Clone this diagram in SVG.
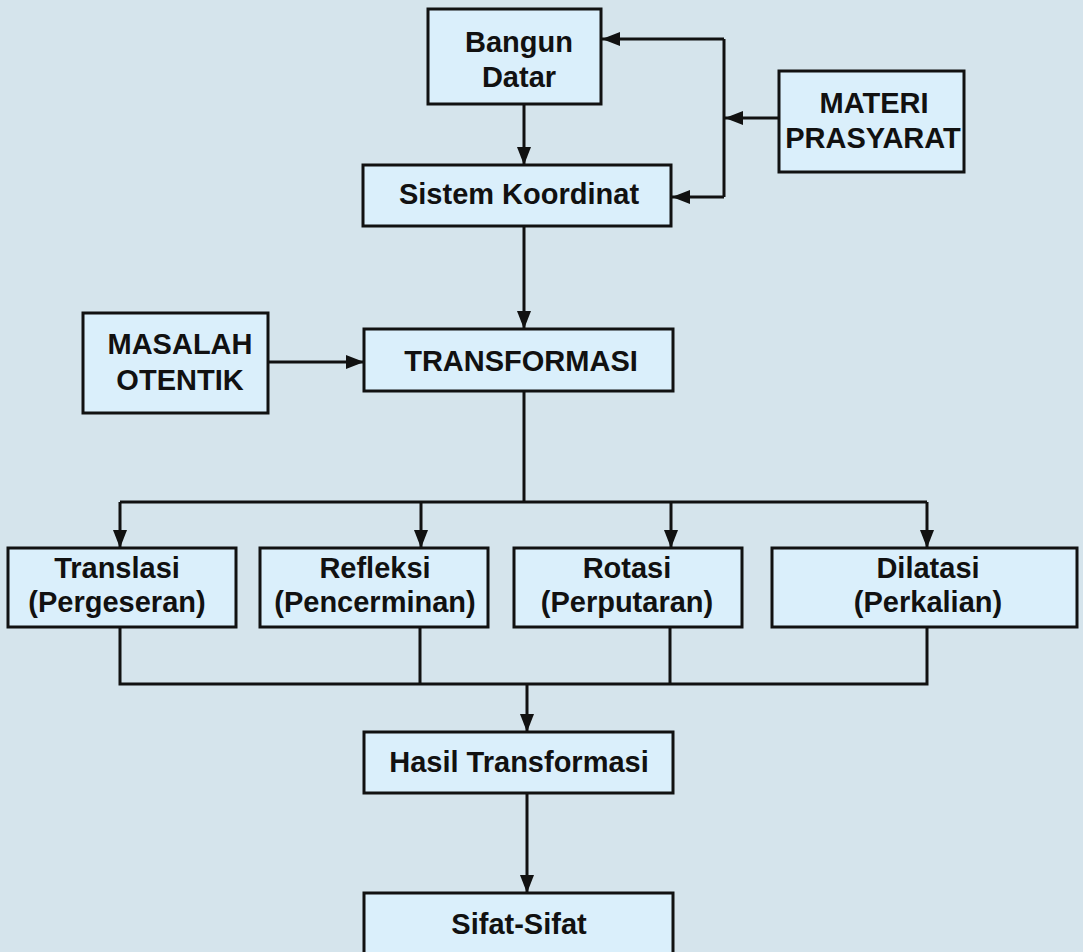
<svg xmlns="http://www.w3.org/2000/svg" width="1083" height="952" viewBox="0 0 1083 952">
<defs>
<style>
.box{fill:#daeffb;stroke:#111;stroke-width:3}
.t{font-family:"Liberation Sans",Arial,sans-serif;font-weight:bold;font-size:29px;fill:#111;text-anchor:middle}
.c{fill:none;stroke:#111;stroke-width:3}
</style>
<marker id="ah" markerWidth="18" markerHeight="14" refX="18" refY="7" orient="auto" markerUnits="userSpaceOnUse">
<path d="M0,0 L18,7 L0,14 Z" fill="#111"/>
</marker>
</defs>
<rect width="1083" height="952" fill="#d5e4ec"/>
<g id="connectors">
<path class="c" d="M524,104 V165" marker-end="url(#ah)"/>
<path class="c" d="M724,39 V197"/>
<path class="c" d="M724,39 H602" marker-end="url(#ah)"/>
<path class="c" d="M724,197 H672" marker-end="url(#ah)"/>
<path class="c" d="M779,118 H725" marker-end="url(#ah)"/>
<path class="c" d="M524,226 V329" marker-end="url(#ah)"/>
<path class="c" d="M268,362 H364" marker-end="url(#ah)"/>
<path class="c" d="M524,391 V502"/>
<path class="c" d="M120,502 H927"/>
<path class="c" d="M120,502 V548" marker-end="url(#ah)"/>
<path class="c" d="M421,502 V548" marker-end="url(#ah)"/>
<path class="c" d="M671,502 V548" marker-end="url(#ah)"/>
<path class="c" d="M927,502 V548" marker-end="url(#ah)"/>
<path class="c" d="M120,627 V684 H927 V627"/>
<path class="c" d="M420,627 V684"/>
<path class="c" d="M670,627 V684"/>
<path class="c" d="M527,684 V732" marker-end="url(#ah)"/>
<path class="c" d="M527,793 V893" marker-end="url(#ah)"/>
</g>
<g id="bangun-datar">
<rect class="box" x="428" y="9" width="173" height="95"/>
<text class="t" x="519" y="52">Bangun</text>
<text class="t" x="519" y="87">Datar</text>
</g>
<g id="sistem-koordinat">
<rect class="box" x="363" y="165" width="308" height="61"/>
<text class="t" x="519" y="204">Sistem Koordinat</text>
</g>
<g id="materi-prasyarat">
<rect class="box" x="779" y="71" width="185" height="101"/>
<text class="t" x="874" y="113">MATERI</text>
<text class="t" x="873" y="148">PRASYARAT</text>
</g>
<g id="masalah-otentik">
<rect class="box" x="83" y="313" width="185" height="100"/>
<text class="t" x="180" y="354">MASALAH</text>
<text class="t" x="180" y="390">OTENTIK</text>
</g>
<g id="transformasi">
<rect class="box" x="364" y="329" width="309" height="62"/>
<text class="t" x="521" y="371">TRANSFORMASI</text>
</g>
<g id="translasi">
<rect class="box" x="8" y="548" width="228" height="79"/>
<text class="t" x="117" y="578">Translasi</text>
<text class="t" x="117" y="612">(Pergeseran)</text>
</g>
<g id="refleksi">
<rect class="box" x="260" y="548" width="228" height="79"/>
<text class="t" x="375" y="578">Refleksi</text>
<text class="t" x="375" y="612">(Pencerminan)</text>
</g>
<g id="rotasi">
<rect class="box" x="514" y="548" width="228" height="79"/>
<text class="t" x="627" y="578">Rotasi</text>
<text class="t" x="627" y="612">(Perputaran)</text>
</g>
<g id="dilatasi">
<rect class="box" x="772" y="548" width="305" height="79"/>
<text class="t" x="928" y="578">Dilatasi</text>
<text class="t" x="928" y="612">(Perkalian)</text>
</g>
<g id="hasil-transformasi">
<rect class="box" x="364" y="732" width="309" height="61"/>
<text class="t" x="519" y="772">Hasil Transformasi</text>
</g>
<g id="sifat-sifat">
<rect class="box" x="364" y="893" width="309" height="70"/>
<text class="t" x="519" y="934">Sifat-Sifat</text>
</g>
</svg>
